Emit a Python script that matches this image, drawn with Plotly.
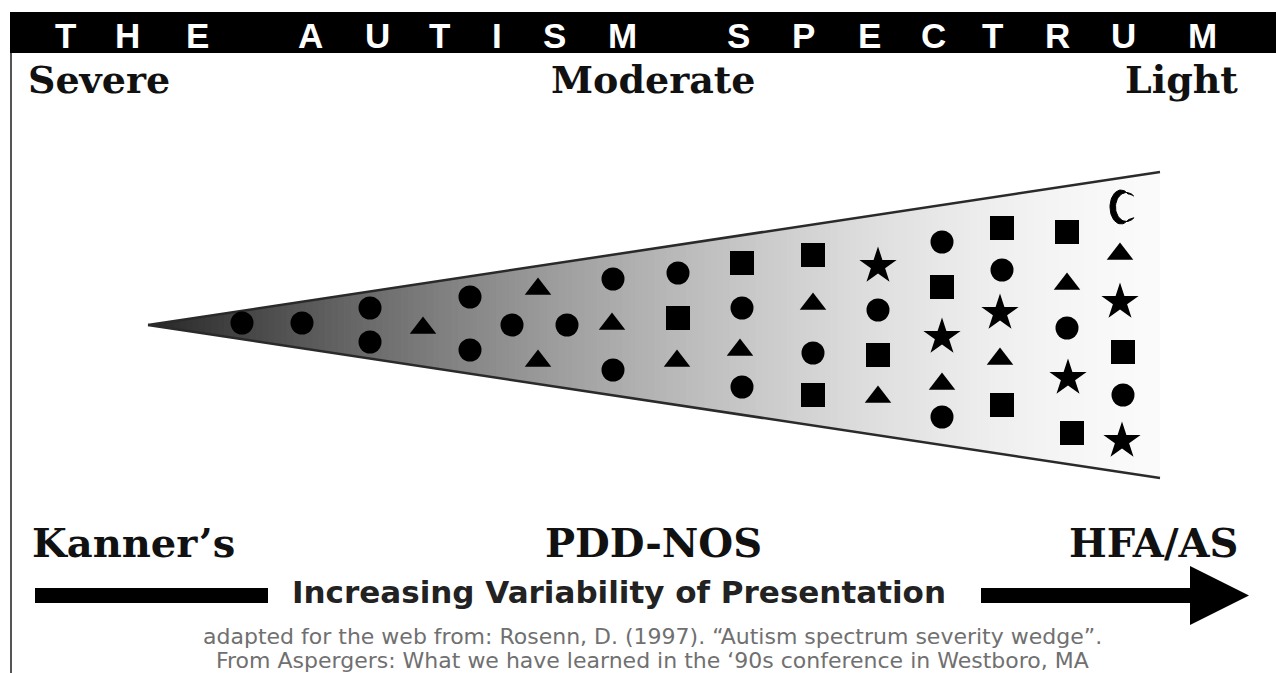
import math
import plotly.graph_objects as go

# ---------------- data ----------------
HEADER_LETTERS = list("THEAUTISMSPECTRUM")
SEVERITY_LABELS = ["Severe", "Moderate", "Light"]
DIAGNOSIS_LABELS = ["Kanner\u2019s", "PDD-NOS", "HFA/AS"]
AXIS_CAPTION = "Increasing Variability of Presentation"
SOURCE_LINES = [
    "adapted for the web from: Rosenn, D. (1997). \u201cAutism spectrum severity wedge\u201d.",
    "From Aspergers: What we have learned in the \u201890s conference in Westboro, MA",
]

# symbol positions inside the wedge (picture pixel coordinates)
CIRCLE_X = [242, 302, 370, 370, 470, 470, 512, 567, 613, 613, 678, 742, 742, 813, 878, 942, 942, 1002, 1067, 1123]
CIRCLE_Y = [323, 323, 308, 342, 297, 350, 325, 325, 279, 370, 273, 308, 387, 353, 310, 242, 417, 270, 328, 395]
TRIANGLE_X = [423, 538, 538, 612, 677, 740, 813, 878, 942, 1000, 1067, 1120]
TRIANGLE_Y = [328, 289, 361, 324, 361, 350, 304, 397, 384, 359, 284, 254]
SQUARE_X = [678, 742, 813, 813, 878, 942, 1002, 1002, 1067, 1072, 1123]
SQUARE_Y = [318, 263, 255, 395, 355, 287, 228, 405, 232, 433, 352]
STAR_X = [878, 942, 1000, 1068, 1120, 1122]
STAR_Y = [266, 337, 313, 378, 302, 441]
MOON_X = [1117]
MOON_Y = [207]

# ---------------- layout geometry ----------------
W, H = 1276, 673
APEX = (148, 325)
END_X, END_TOP, END_BOT = 1160, 172, 478

shapes = []

# gradient wedge built from thin slices
N = 160
def grey(t):
    v = int(round(38 + 212 * (1 - (1 - t) ** 1.6)))
    return f"rgb({v},{v},{v})"

def top_y(x):
    return APEX[1] + (END_TOP - APEX[1]) * (x - APEX[0]) / (END_X - APEX[0])

def bot_y(x):
    return APEX[1] + (END_BOT - APEX[1]) * (x - APEX[0]) / (END_X - APEX[0])

for i in range(N):
    x0 = APEX[0] + (END_X - APEX[0]) * i / N
    x1 = APEX[0] + (END_X - APEX[0]) * (i + 1) / N
    x1e = min(x1 + 0.8, END_X)
    path = (f"M {x0},{top_y(x0)} L {x1e},{top_y(x1e)} "
            f"L {x1e},{bot_y(x1e)} L {x0},{bot_y(x0)} Z")
    shapes.append(dict(type="path", path=path, xref="x", yref="y",
                       fillcolor=grey((i + 0.5) / N), line=dict(width=0),
                       layer="below"))

# wedge edges
for yy in (END_TOP, END_BOT):
    shapes.append(dict(type="line", xref="x", yref="y", x0=APEX[0], y0=APEX[1],
                       x1=END_X, y1=yy, line=dict(color="#2a2a2a", width=2.5),
                       layer="below"))

# header bar
shapes.append(dict(type="rect", xref="x", yref="y", x0=10, x1=W, y0=12, y1=53,
                   fillcolor="black", line=dict(width=0), layer="below"))
# left border
shapes.append(dict(type="line", xref="x", yref="y", x0=11, x1=11, y0=53, y1=H,
                   line=dict(color="#555555", width=2), layer="below"))
# arrow bars
shapes.append(dict(type="rect", xref="x", yref="y", x0=35, x1=268, y0=588, y1=603,
                   fillcolor="black", line=dict(width=0), layer="below"))
shapes.append(dict(type="rect", xref="x", yref="y", x0=981, x1=1195, y0=588, y1=603,
                   fillcolor="black", line=dict(width=0), layer="below"))
shapes.append(dict(type="path", xref="x", yref="y",
                   path="M 1190,566 L 1249,595.5 L 1190,625 Z",
                   fillcolor="black", line=dict(width=0), layer="below"))

fig = go.Figure()

def add_markers(xs, ys, symbol, size):
    fig.add_trace(go.Scatter(x=xs, y=ys, mode="markers", hoverinfo="skip",
                             marker=dict(symbol=symbol, size=size, color="black",
                                         line=dict(width=0))))

add_markers(CIRCLE_X, CIRCLE_Y, "circle", 23)
add_markers(TRIANGLE_X, TRIANGLE_Y, "triangle-up", 23)
add_markers(SQUARE_X, SQUARE_Y, "square", 24)
add_markers(STAR_X, STAR_Y, "star", 28)

# thin crescent moon: filled polygon built around each moon position
def crescent(cx, cy):
    xs, ys = [], []
    for k in range(41):  # outer arc, bulging left
        a = math.radians(48 + 264 * k / 40)
        xs.append(cx + 4 + 11 * math.cos(a))
        ys.append(cy - 17 * math.sin(a))
    for k in range(41):  # inner arc back
        a = math.radians(312 - 264 * k / 40)
        xs.append(cx + 9.5 + 11 * math.cos(a))
        ys.append(cy - 14.5 * math.sin(a))
    return xs, ys

for mx, my in zip(MOON_X, MOON_Y):
    cxs, cys = crescent(mx, my)
    fig.add_trace(go.Scatter(x=cxs, y=cys, mode="lines", fill="toself",
                             fillcolor="black", line=dict(color="black", width=1),
                             hoverinfo="skip"))

annotations = []
# header letters
letter_x = [65, 127, 197, 310, 377, 439, 497, 554, 622, 738, 803, 869, 933, 992, 1057, 1123, 1202]
for ch, lx in zip(HEADER_LETTERS, letter_x):
    annotations.append(dict(x=lx, y=35, xref="x", yref="y", text=ch, showarrow=False,
                            xanchor="center", yanchor="middle",
                            font=dict(family="Liberation Sans", size=35, color="white",
                                      weight="bold")))

serif_top = dict(family="DejaVu Serif", size=38, color="#111111", weight="bold")
serif_bot = dict(family="DejaVu Serif", size=40, color="#111111", weight="bold")
label_specs = [
    (26, 79, SEVERITY_LABELS[0], "left", serif_top),
    (653, 79, SEVERITY_LABELS[1], "center", serif_top),
    (1240, 79, SEVERITY_LABELS[2], "right", serif_top),
    (30, 542, DIAGNOSIS_LABELS[0], "left", serif_bot),
    (653, 542, DIAGNOSIS_LABELS[1], "center", serif_bot),
    (1240, 542, DIAGNOSIS_LABELS[2], "right", serif_bot),
]
for lx, ly, txt, anc, fnt in label_specs:
    annotations.append(dict(x=lx, y=ly, xref="x", yref="y", text=txt, showarrow=False,
                            xanchor=anc, yanchor="middle", font=fnt))

annotations.append(dict(x=290, y=592, xref="x", yref="y", text=AXIS_CAPTION, showarrow=False,
                        xanchor="left", yanchor="middle",
                        font=dict(family="DejaVu Sans", size=31, color="#222222", weight="bold")))
for i, line in enumerate(SOURCE_LINES):
    annotations.append(dict(x=652, y=636 + 24 * i, xref="x", yref="y", text=line,
                            showarrow=False, xanchor="center", yanchor="middle",
                            font=dict(family="DejaVu Sans", size=22, color="#707070")))

fig.update_layout(
    width=W, height=H, autosize=False,
    margin=dict(l=0, r=0, t=0, b=0, pad=0),
    paper_bgcolor="white", plot_bgcolor="white",
    showlegend=False,
    xaxis=dict(range=[0, W], visible=False, fixedrange=True),
    yaxis=dict(range=[H, 0], visible=False, fixedrange=True),
    shapes=shapes, annotations=annotations,
)

fig.write_html("out.html", config={"displayModeBar": False, "staticPlot": True},
               post_script="document.body.style.margin='0';document.body.style.overflow='hidden';")
